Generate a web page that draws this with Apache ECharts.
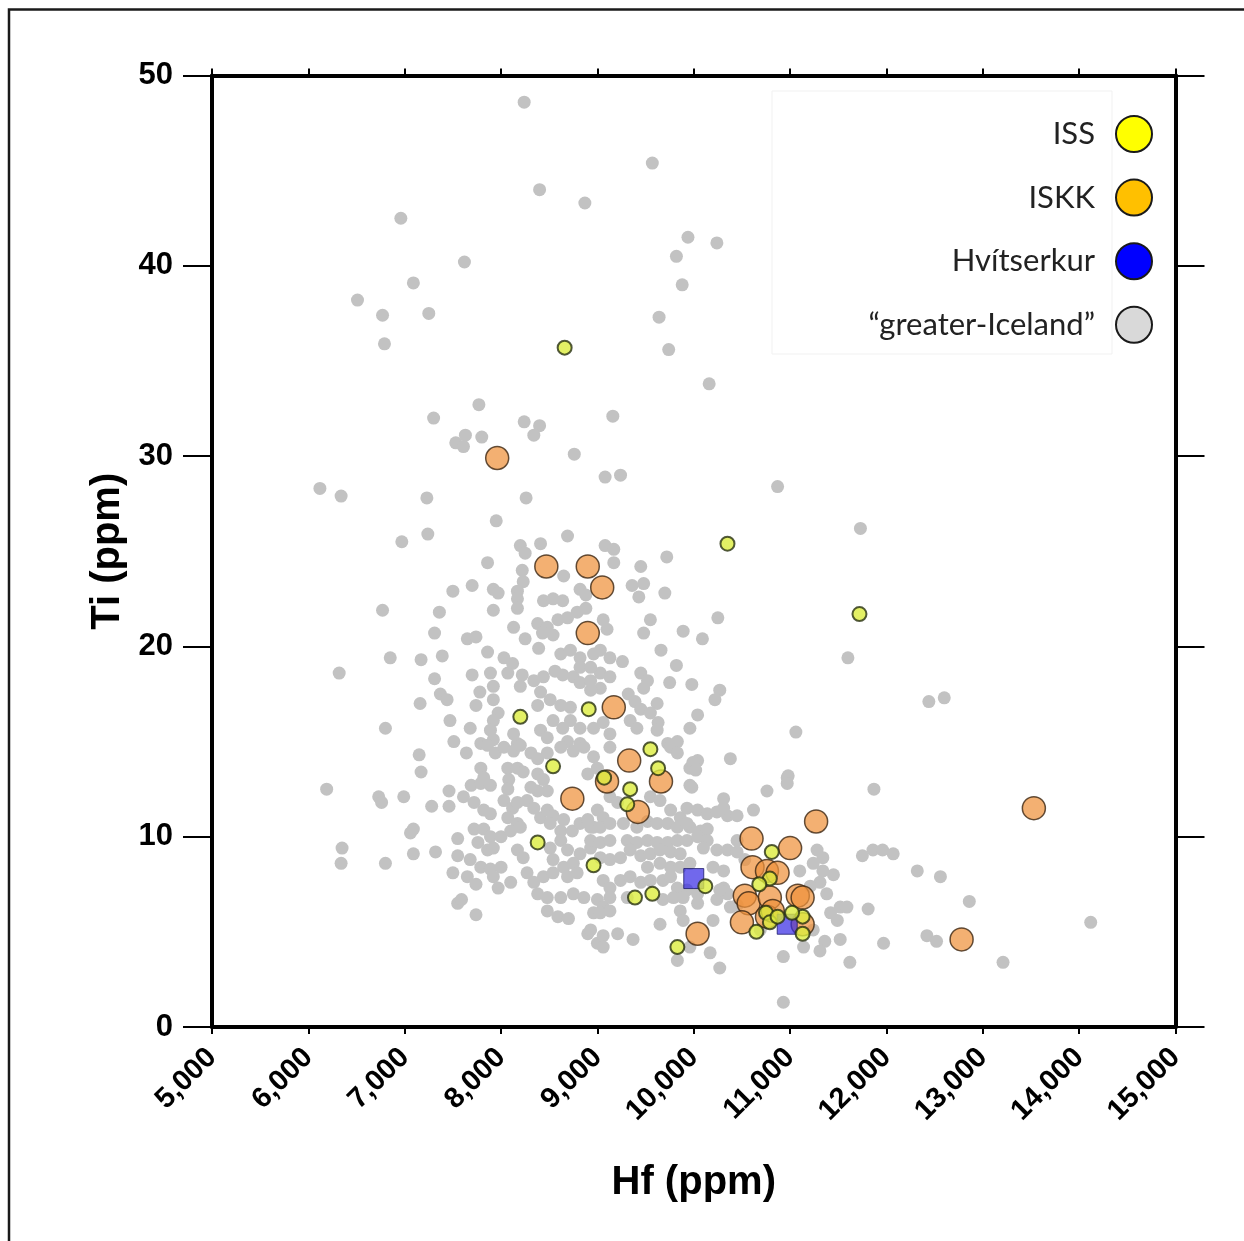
<!DOCTYPE html>
<html><head><meta charset="utf-8">
<script src="https://cdn.jsdelivr.net/npm/echarts@6/dist/echarts.min.js"></script>
<style>html,body{margin:0;padding:0;background:#fff}#c{width:1244px;height:1241px}</style>
</head><body><div id="c"></div>
<script>
const xTickValues = [5000,6000,7000,8000,9000,10000,11000,12000,13000,14000,15000];
const xTickLabels = ['5,000','6,000','7,000','8,000','9,000','10,000','11,000','12,000','13,000','14,000','15,000'];
const yTickValues = [0,10,20,30,40,50];
const yTickLabels = ['0','10','20','30','40','50'];
const legendNames = ['ISS','ISKK','Hvítserkur','\u201cgreater-Iceland\u201d'];

// [Hf (ppm), Ti (ppm)]
const issPoints = [[8660,35.7],[10350,25.4],[11720,21.7],[8200,16.3],[8910,16.7],[9550,14.6],[8540,13.7],[9630,13.6],[9070,13.1],[9340,12.5],[9310,11.7],[8380,9.7],[8960,8.5],[9390,6.8],[9570,7.0],[10120,7.4],[9830,4.2],[10810,9.2],[10790,7.8],[10680,7.5],[10750,6.0],[10790,5.5],[10650,5.0],[11130,5.8],[11130,4.9],[11020,6.0],[10870,5.8]];

const iskkPoints = [[7960,29.9],[8470,24.2],[8900,24.2],[9050,23.1],[8900,20.7],[9170,16.8],[9330,14.0],[9100,12.9],[8740,12.0],[9420,11.3],[9660,12.9],[10040,4.9],[10600,9.9],[11000,9.4],[11270,10.8],[10610,8.4],[10760,8.2],[10870,8.1],[10530,6.9],[10570,6.5],[10790,6.8],[11080,6.9],[11130,6.8],[10500,5.5],[10760,5.8],[10820,6.1],[11130,5.4],[13530,11.5],[12780,4.6]];

const hvitserkurPoints = [[10000,7.8],[10970,5.4]];

const greaterIcelandPoints = [
[8240,48.6],[9570,45.4],[8400,44.0],[8870,43.3],[6960,42.5],[9940,41.5],[10240,41.2],[9820,40.5],[7620,40.2],[7090,39.1],[9880,39.0],[6510,38.2],[6770,37.4],[7250,37.5],[9640,37.3],[6790,35.9],[9740,35.6],[10160,33.8],[7770,32.7],[7300,32.0],[8240,31.8],[8400,31.6],[8340,31.1],[9160,32.1],[7530,30.7],[7630,31.1],[7610,30.5],[7800,31.0],[8760,30.1],[9080,28.9],[9240,29.0],
[6120,28.3],[6340,27.9],[7230,27.8],[8260,27.8],[7950,26.6],[7240,25.9],[6970,25.5],[8690,25.8],[8410,25.4],[8200,25.3],[8250,24.9],[9080,25.3],[9170,25.1],[7860,24.4],[8650,23.7],[9170,24.4],[9450,24.2],[9720,24.7],[8220,24.0],[8230,23.4],[8820,23.0],[8880,22.7],[9360,23.2],[9480,23.3],[9430,22.6],[9700,22.8],[7500,22.9],[7700,23.2],[7920,23.0],[7970,22.8],[8170,22.9],[8170,22.5],[8170,22.0],[8440,22.4],[8540,22.5],[8640,22.4],[6770,21.9],[7360,21.8],[7920,21.9],[10250,21.5],[9550,21.4],[9480,20.7],[9890,20.8],[10090,20.4],[9060,21.4],[9100,20.9],[8790,21.8],[8880,22.0],
[7310,20.7],[7650,20.4],[7740,20.5],[8130,21.0],[8250,20.4],[8380,21.2],[8480,21.0],[8590,21.4],[8690,21.5],[8430,20.7],[8540,20.6],[8390,19.9],[8620,19.6],[8720,19.8],[8820,19.4],[8960,19.6],[9030,19.8],[9130,19.4],[9260,19.2],[9660,19.8],[9820,19.0],[9450,18.6],[9520,18.2],[9480,17.8],[9750,18.1],[9980,18.0],[10270,17.7],[10220,17.2],[9030,18.6],[9130,18.4],[9030,17.8],[8930,17.7],[9320,17.5],[9390,17.1],[9620,17.0],[9450,16.7],[9550,16.5],[9340,16.1],[9410,15.7],[9630,16.0],[9620,15.6],[10040,16.4],[9960,15.7],[9060,16.0],[9130,15.4],[9730,14.9],[9830,15.0],
[6850,19.4],[7170,19.3],[7390,19.5],[7860,19.7],[8030,19.4],[8120,19.1],[8070,18.6],[8220,18.5],[8200,17.9],[8340,18.2],[8440,18.4],[8560,18.7],[8640,18.5],[8750,18.4],[8820,18.1],[8930,18.2],[8820,18.9],[8930,18.9],[6320,18.6],[7310,18.3],[7700,18.5],[7890,18.6],[7920,17.9],[7370,17.5],[7440,17.2],[7160,17.0],[7780,17.6],[7920,17.2],[7740,16.9],[8410,17.6],[8510,17.2],[8620,16.9],[8720,16.8],[8380,16.9],[8720,16.1],[8820,15.7],[8960,15.7],[8540,16.1],[8640,15.7],[8410,15.6],[8480,15.2],[7970,16.5],[7920,16.1],[7890,15.6],[7920,15.1],[7470,16.1],[7680,15.7],[6800,15.7],[7510,15.0],[7790,14.9],[8130,15.4],[8170,14.9],[8690,15.0],[8820,14.9],
[7150,14.3],[7170,13.4],[7640,14.4],[7860,14.8],[7940,14.4],[8030,14.7],[8130,14.5],[8200,14.8],[7790,13.6],[7820,13.1],[8070,13.6],[8080,13.0],[8070,12.5],[8170,13.6],[8230,13.4],[8310,14.4],[8380,14.1],[8480,14.4],[8620,14.7],[8750,14.5],[8860,14.7],[8960,14.2],[8380,13.3],[8440,13.0],[8480,12.4],[8380,12.4],[8310,12.6],[8900,13.3],[9000,13.6],[9130,14.7],[9760,14.7],[9830,14.4],[9960,13.6],[10040,14.0],[10380,14.1],[9960,12.7],[10760,12.4],[10970,13.1],[9130,12.1],[9210,11.8],[9000,11.4],[9060,11.0],[9550,12.1],[9650,11.9],[9760,11.4],[9860,11.0],[9930,11.5],[10040,11.4],[10140,11.2],[10240,11.3],[10350,11.1],[10450,11.1],[10310,12.0],[10620,11.4],
[7460,12.4],[7690,12.7],[7790,12.8],[7890,12.7],[7610,12.1],[7280,11.6],[7460,11.6],[6990,12.1],[6730,12.1],[6760,11.8],[6190,12.5],[7720,11.8],[7820,11.4],[7890,11.2],[8030,11.9],[8120,11.5],[8170,11.8],[8070,11.0],[8170,10.7],[8270,11.9],[8340,11.5],[8410,11.0],[8480,11.4],[8540,11.1],[8650,10.9],[8510,10.7],[8620,10.3],[8740,10.3],[8820,10.7],[8900,10.9],[8960,10.5],[7090,10.4],[7060,10.2],[7720,10.4],[7820,10.4],[7890,10.0],[8000,10.0],[8100,10.3],[8200,10.5],[7550,9.9],[7760,9.7],[7860,9.3],[7920,9.4],[7680,8.8],[7790,8.4],[7890,8.3],[8000,8.4],[8170,9.3],[8230,8.9],[8510,9.4],[8620,9.8],[8690,9.3],[8820,9.1],[8930,9.4],[8540,8.8],[8650,8.4],[8750,8.6],[7090,9.1],[7320,9.2],[7550,9.0],[6800,8.6],[6350,9.4],[6340,8.6],[7500,8.1],[7650,7.9],[7740,7.5],[7920,7.9],[7970,7.3],[8100,7.6],[8270,8.1],[8340,7.6],[8440,7.9],[8540,8.1],[8690,7.9],[8790,8.1],[8380,7.0],[8480,6.8],[8620,6.8],[8750,7.0],[8860,6.8],[7550,6.5],[7590,6.7],[7740,5.9],[8480,6.1],[8590,5.8],[8700,5.7],[8960,6.0],[8900,4.9],[9000,4.4],
[8930,10.5],[9030,10.5],[9130,10.7],[9270,10.7],[9410,10.5],[9520,10.8],[9620,10.7],[9730,10.7],[9830,10.5],[9960,10.5],[10070,10.3],[10140,10.4],[8930,9.8],[9030,9.7],[9130,9.8],[9310,9.8],[9410,9.7],[9520,9.8],[9620,9.7],[9730,9.7],[9830,9.8],[9930,9.8],[10040,10.0],[10140,9.8],[10240,9.3],[10350,9.3],[10450,9.2],[10450,9.8],[9030,8.9],[9130,8.8],[9240,8.9],[9340,9.3],[9450,9.0],[9550,9.1],[9650,9.3],[9760,9.2],[9860,9.1],[9520,8.4],[9650,8.6],[9760,8.4],[9860,8.4],[9960,8.6],[10200,8.4],[10310,8.2],[9060,7.7],[9130,7.3],[9240,7.7],[9340,7.9],[9450,7.6],[9550,7.7],[9680,7.7],[9760,7.9],[9830,7.3],[9930,7.2],[10040,7.0],[10310,7.3],[10350,7.0],[9000,6.7],[9060,6.3],[9130,6.8],[9310,6.8],[9680,6.7],[9790,6.8],[9890,6.8],[10040,6.5],[10240,6.7],[10380,6.3],[9030,6.0],[9130,6.1],[9860,6.1],[9890,5.6],[9650,5.4],[10200,5.6],[8930,5.1],[9060,4.8],[9210,4.9],[9370,4.6],[9060,4.2],[9830,3.5],[9960,4.2],[10170,3.9],[10270,3.1],[10930,3.7],
[9990,13.9],[10020,13.5],[10980,13.2],[10970,12.8],[11870,12.5],[9980,12.6],[10310,11.5],[9930,10.7],[10100,9.4],[11280,9.3],[11340,8.9],[11240,8.6],[11340,8.2],[11450,8.0],[11750,9.0],[11860,9.3],[11960,9.3],[12070,9.1],[12320,8.2],[12560,7.9],[12860,6.6],[11380,7.0],[11310,7.6],[11520,6.3],[11590,6.3],[11810,6.2],[11420,6.0],[11490,5.6],[11520,4.6],[11360,4.5],[11970,4.4],[11240,5.1],[11140,4.2],[11620,3.4],[12420,4.8],[12520,4.5],[13210,3.4],[10930,1.3],[10270,7.2],[11600,19.4],[11060,15.5],[14120,5.5],[10870,28.4],[11730,26.2],[12600,17.3],[12440,17.1],[11310,4.0],[10530,8.8],[11100,8.2],[11210,7.4],[10690,5.1],[10450,6.4]
];

const FONT = '"Liberation Sans", Arial, sans-serif';
const chart = echarts.init(document.getElementById('c'), null, {renderer: 'canvas'});

const axisLineStyle = {color: '#000', width: 4};
const xLabel = v => { const i = xTickValues.indexOf(v); return i >= 0 ? xTickLabels[i] : ''; };
const yLabel = v => { const i = yTickValues.indexOf(v); return i >= 0 ? yTickLabels[i] : ''; };

chart.setOption({
  animation: false,
  backgroundColor: '#fff',
  grid: {left: 212, right: 68.5, top: 75.5, bottom: 214, containLabel: false},
  graphic: [
    {type: 'rect', silent: true, shape: {x: 9, y: 9.5, width: 1300, height: 1300},
     style: {fill: 'none', stroke: '#1a1a1a', lineWidth: 2.5}},
    {type: 'rect', silent: true, shape: {x: 772, y: 91, width: 340, height: 263},
     style: {fill: 'none', stroke: '#f1f1f1', lineWidth: 1}}
  ],
  legend: {
    data: [
      {name: legendNames[0], icon: 'circle', itemStyle: {color: '#FFFF00', borderColor: '#1a1a1a', borderWidth: 2, opacity: 1}},
      {name: legendNames[1], icon: 'circle', itemStyle: {color: '#FFC000', borderColor: '#1a1a1a', borderWidth: 2, opacity: 1}},
      {name: legendNames[2], icon: 'circle', itemStyle: {color: '#0000FF', borderColor: '#1a1a1a', borderWidth: 2, opacity: 1}},
      {name: legendNames[3], icon: 'circle', itemStyle: {color: '#D9D9D9', borderColor: '#1a1a1a', borderWidth: 2, opacity: 1}}
    ],
    orient: 'vertical', align: 'right', right: 86, top: 110,
    itemWidth: 36, itemHeight: 36, itemGap: 25.6, selectedMode: false,
    textStyle: {fontFamily: 'Lato, "Open Sans", sans-serif', fontSize: 31, color: '#222', padding: [0, 16, 0, 0]}
  },
  xAxis: [
    {type: 'value', position: 'bottom', min: 5000, max: 15000, interval: 1000,
     name: 'Hf (ppm)', nameLocation: 'middle', nameGap: 136,
     nameTextStyle: {fontFamily: FONT, fontSize: 40, fontWeight: 'bold', color: '#000'},
     axisLine: {show: true, onZero: false, lineStyle: axisLineStyle},
     axisTick: {show: true, inside: false, length: 7, lineStyle: {color: '#000', width: 2}},
     axisLabel: {show: true, rotate: 45, margin: 26, fontFamily: FONT, fontSize: 29, fontWeight: 'bold', color: '#000', formatter: xLabel},
     splitLine: {show: false}},
    {type: 'value', position: 'top', min: 5000, max: 15000, interval: 1000,
     axisLine: {show: true, onZero: false, lineStyle: axisLineStyle},
     axisTick: {show: true, inside: false, length: 7, lineStyle: {color: '#000', width: 2}},
     axisLabel: {show: false}, splitLine: {show: false}}
  ],
  yAxis: [
    {type: 'value', position: 'left', min: 0, max: 50, interval: 10,
     name: 'Ti (ppm)', nameLocation: 'middle', nameGap: 82,
     nameTextStyle: {fontFamily: FONT, fontSize: 40, fontWeight: 'bold', color: '#000'},
     axisLine: {show: true, onZero: false, lineStyle: axisLineStyle},
     axisTick: {show: true, inside: false, length: 29, lineStyle: {color: '#000', width: 2}},
     axisLabel: {show: true, margin: 39, fontFamily: FONT, fontSize: 31, fontWeight: 'bold', color: '#000', formatter: yLabel},
     splitLine: {show: false}},
    {type: 'value', position: 'right', min: 0, max: 50, interval: 10,
     axisLine: {show: true, onZero: false, lineStyle: axisLineStyle},
     axisTick: {show: true, inside: false, length: 29, lineStyle: {color: '#000', width: 2}},
     axisLabel: {show: false}, splitLine: {show: false}}
  ],
  series: [
    {name: legendNames[3], type: 'scatter', z: 2, symbol: 'circle', symbolSize: 13,
     itemStyle: {color: '#c2c2c2', opacity: 1}, emphasis: {disabled: true}, data: greaterIcelandPoints},
    {name: legendNames[1], type: 'scatter', z: 3, symbol: 'circle', symbolSize: 23,
     itemStyle: {color: 'rgba(238,146,60,0.9)', borderColor: '#3b2512', borderWidth: 1.5}, emphasis: {disabled: true}, data: iskkPoints},
    {name: legendNames[2], type: 'scatter', z: 4, symbol: 'rect', symbolSize: 20,
     itemStyle: {color: 'rgba(52,40,228,0.88)', borderColor: '#1c1a6a', borderWidth: 1}, emphasis: {disabled: true}, data: hvitserkurPoints},
    {name: legendNames[0], type: 'scatter', z: 5, symbol: 'circle', symbolSize: 14,
     itemStyle: {color: '#dcec3e', borderColor: '#273010', borderWidth: 2}, emphasis: {disabled: true}, data: issPoints}
  ]
});
</script>
</body></html>
